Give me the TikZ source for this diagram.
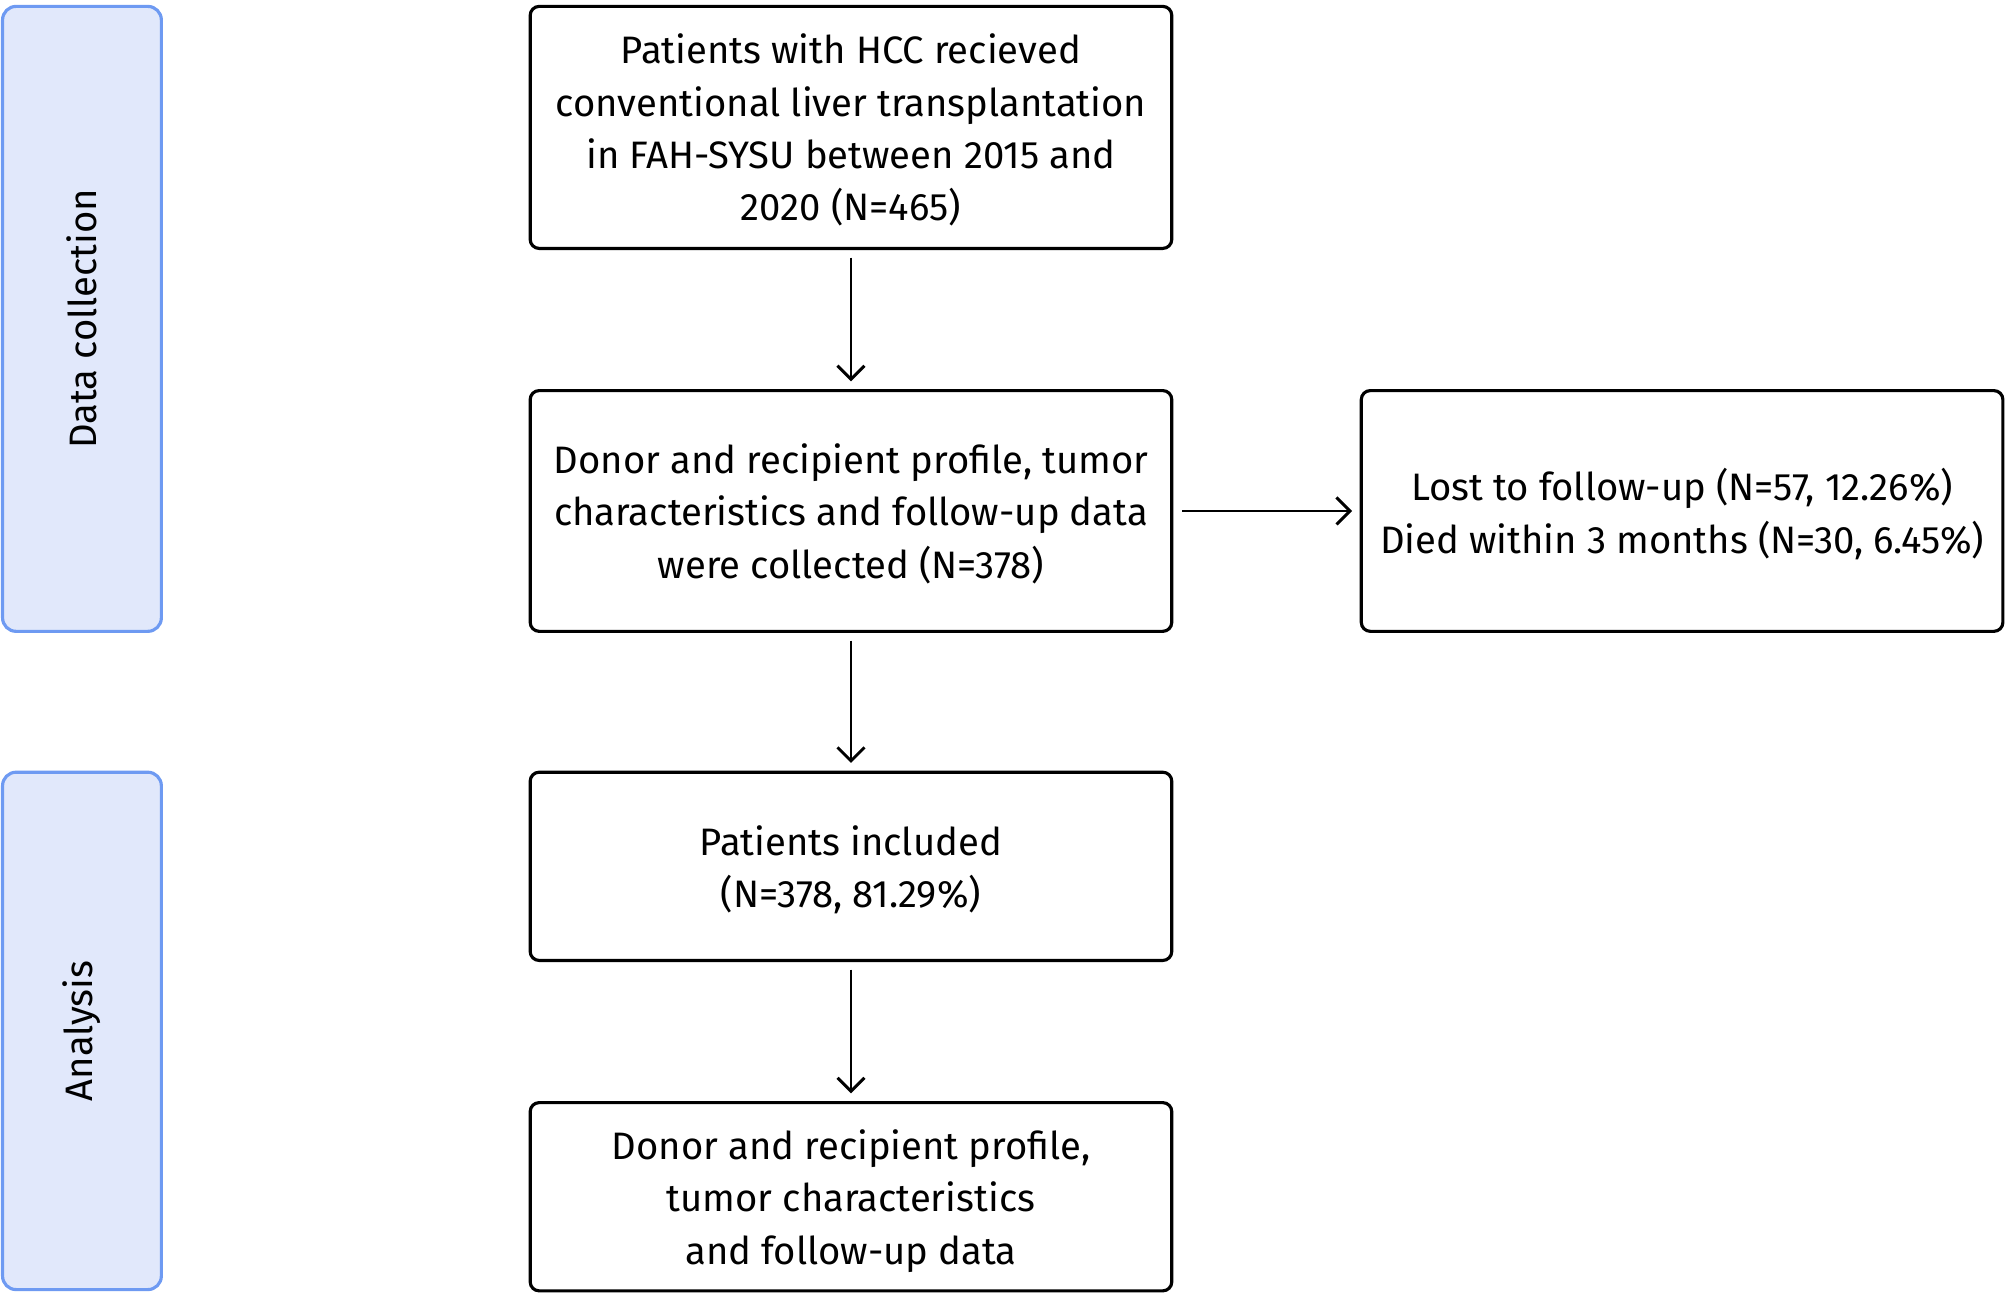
\documentclass[tikz,border=0pt]{standalone}
\usepackage{fontspec}
\usetikzlibrary{arrows.meta}
\setmainfont{Fira Sans}
\definecolor{bfill}{HTML}{E1E8FB}
\definecolor{bline}{HTML}{6E9AF2}
\begin{document}
\begin{tikzpicture}[x=0.02cm,y=-0.02cm,
  box/.style={draw,line width=1.4pt,rounded corners=4pt,align=center,inner sep=0pt,font=\fontsize{17}{23.3}\selectfont},
  side/.style={draw=bline,fill=bfill,line width=1.4pt,rounded corners=6pt},
  arr/.style={-{Straight Barb[length=6pt,width=12pt,line width=1.3pt]},line width=1.3pt}]
\useasboundingbox (0,0) rectangle (1568,1013);
\draw[side] (2,5) rectangle (126,493);
\draw[side] (2,603) rectangle (126,1007);
\node[rotate=90,font=\fontsize{17}{20}\selectfont] (l1) at (64,249) {Data collection};
\node[rotate=90,font=\fontsize{17}{20}\selectfont] (l2) at (64,805) {Analysis};
\node[box,minimum width=501*0.02cm,minimum height=189*0.02cm,text depth=-6pt] (b1) at (664.5,99.5) {Patients with HCC recieved\\conventional liver transplantation\\in FAH-SYSU between 2015 and\\2020 (N=465)};
\node[box,minimum width=501*0.02cm,minimum height=188*0.02cm,text depth=-6pt] (b2) at (664.5,399) {Donor and recipient profile, tumor\\characteristics and follow-up data\\were collected (N=378)};
\node[box,minimum width=501*0.02cm,minimum height=188*0.02cm,text depth=-6pt] (r) at (1313.5,399) {Lost to follow-up (N=57, 12.26\%)\\Died within 3 months (N=30, 6.45\%)};
\node[box,minimum width=501*0.02cm,minimum height=147*0.02cm,text depth=-6pt] (b3) at (664.5,676.5) {Patients included\\(N=378, 81.29\%)};
\node[box,minimum width=501*0.02cm,minimum height=147*0.02cm,text depth=-6pt] (b4) at (664.5,934.5) {Donor and recipient profile,\\tumor characteristics\\and follow-up data};
\draw[arr] ([yshift=-6*0.02cm]b1.south) -- ([yshift=6*0.02cm]b2.north);
\draw[arr] ([yshift=-6*0.02cm]b2.south) -- ([yshift=6*0.02cm]b3.north);
\draw[arr] ([yshift=-6*0.02cm]b3.south) -- ([yshift=6*0.02cm]b4.north);
\draw[arr] ([xshift=7*0.02cm]b2.east) -- ([xshift=-6*0.02cm]r.west);
\end{tikzpicture}
\end{document}
